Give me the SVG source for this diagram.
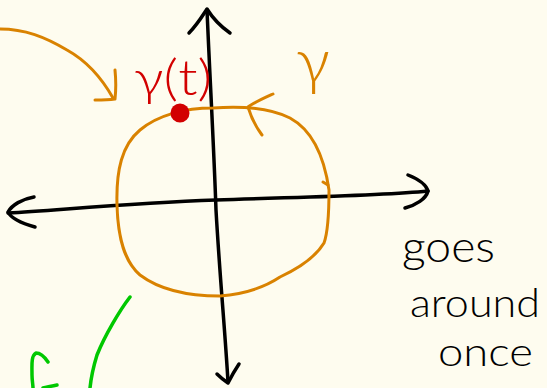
<svg xmlns="http://www.w3.org/2000/svg" width="547" height="388" viewBox="0 0 547 388">
<style>
.s{fill:none;stroke-linecap:round;stroke-linejoin:round}
.k{stroke:#000;stroke-width:3.5}
.o{stroke:#D98200;stroke-width:3}
.g{stroke:#00C800;stroke-width:3.5}
.t{font-family:Lato,"Open Sans","DejaVu Sans",sans-serif;font-weight:300}
</style>
<rect width="547" height="388" fill="#FEFCEF"/>
<g id="axes">
<path class="s k" d="M207,10 C210,80 214,150 216,210 C220,280 225,330 228,382"/>
<path class="s k" d="M189,33 C197,25 203,15 207,9 C212,17 220,26 230,33"/>
<path class="s k" d="M217,374 C221,378 225,381 228,383 C231,377 235,370 239,364"/>
<path class="s k" d="M8,213 C60,210 130,203 216,200 C300,197 380,196 428,191"/>
<path class="s k" d="M34,197 C22,199 12,205 8,212 C12,220 24,224 35,227"/>
<path class="s k" d="M408,175 C418,179 426,184 428,191 C426,199 416,205 405,208" stroke-width="4.5"/>
</g>
<g id="curve-gamma">
<path class="s o" d="M117,205 C116,170 122,145 140,130 C158,115 185,108 213,108 C240,106 270,108 290,118 C312,130 324,155 329,190 C329,215 328,232 324,243 C315,258 295,270 280,277 C265,287 245,294 220,296 C190,296 160,290 140,275 C125,262 118,240 117,205"/>
<path class="s o" d="M273,94 C262,99 253,103 248,107 C251,117 256,127 262,135"/>
<path class="s o" d="M323,182 L328,185"/>
</g>
<g id="arrow-pointer">
<path class="s o" d="M0,29 C25,29 45,37 67,50 C85,60 100,75 113,98"/>
<path class="s o" d="M115,70 C116,80 116,90 115,99 C108,100 101,100 95,100"/>
</g>
<g id="point">
<circle cx="180" cy="113" r="9.5" fill="#D20000"/>
<text class="t" x="134" y="95" font-size="50" fill="#D20000" textLength="78" lengthAdjust="spacingAndGlyphs">γ(t)</text>
</g>
<g id="label-gamma">
<text class="t" x="296" y="83" font-size="64" fill="#D98200" textLength="34" lengthAdjust="spacingAndGlyphs">γ</text>
</g>
<g id="label-goes">
<text class="t" fill="#000">
<tspan x="402" y="262" font-size="44" textLength="93" lengthAdjust="spacingAndGlyphs">goes</tspan>
<tspan x="410" y="317" font-size="40" textLength="130" lengthAdjust="spacingAndGlyphs">around</tspan>
<tspan x="438" y="366" font-size="40" textLength="95" lengthAdjust="spacingAndGlyphs">once</tspan>
</text>
</g>
<g id="green">
<path class="s g" d="M130,297 C120,310 105,335 97,355 C93,368 91,378 90,388"/>
<path class="s g" d="M48,362 C44,356 40,353 36,353 C31,356 32,365 32,375 C32,380 33,385 33,388"/>
<path class="s g" d="M57,385 C52,386 47,387 43,388"/>
</g>
</svg>
